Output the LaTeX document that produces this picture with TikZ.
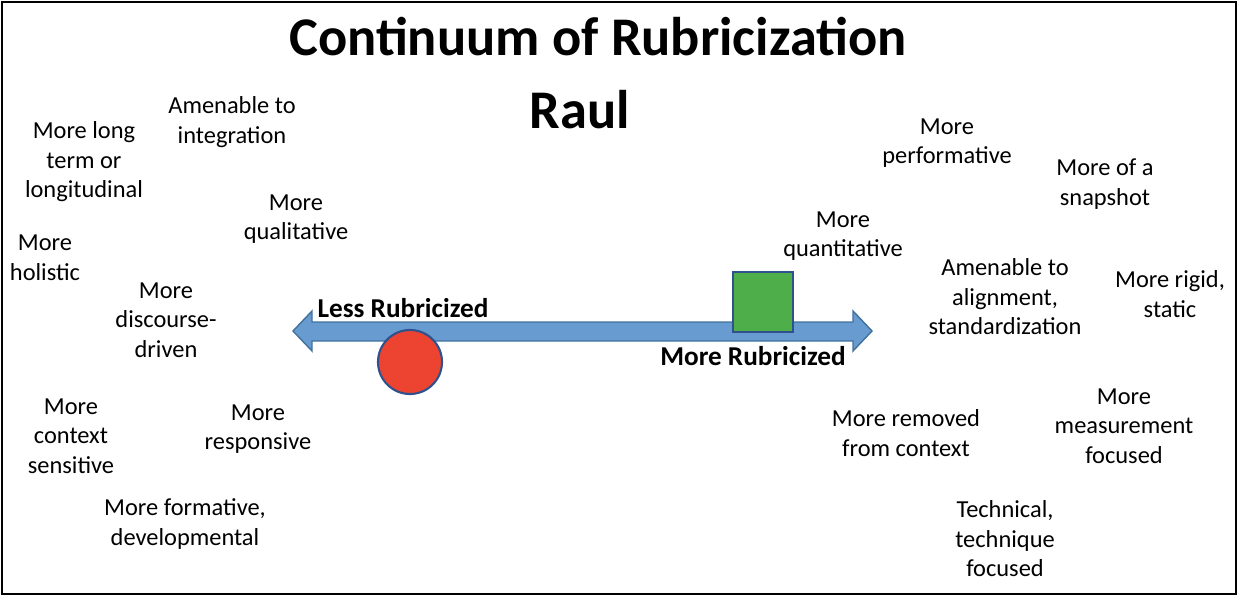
\documentclass[tikz,border=0pt]{standalone}
\usepackage{fontspec}
\setmainfont{Carlito}
\usepackage{xcolor}
\usepackage{tikz}
\usetikzlibrary{positioning,calc}

\definecolor{barblue}{RGB}{104,155,208}
\definecolor{barline}{RGB}{65,113,156}
\definecolor{dotred}{RGB}{236,68,48}
\definecolor{boxgreen}{RGB}{78,175,74}
\definecolor{shapeline}{RGB}{47,82,143}

\tikzset{
    lbl/.style={align=center, inner sep=0pt, font=\fontsize{13.9}{16.8}\selectfont},
    endlbl/.style={inner sep=0pt, font=\fontsize{15.5}{18}\selectfont\bfseries},
    ttl/.style={inner sep=0pt, font=\fontsize{31}{36}\selectfont\bfseries}
}

\begin{document}
\begin{tikzpicture}[x=0.02cm, y=-0.02cm]
    \useasboundingbox (0,0) rectangle (1238,596);
    % Frame
    \draw[line width=1.5pt] (2,2) rectangle (1236,594);

    % Title
    \node[ttl] (title) at (598,37) {Continuum of Rubricization};
    \node[ttl] (name) at (580,110) {Raul};

    % Double-headed scale
    \draw[barline, fill=barblue, line width=0.8pt]
        (293,331) -- (312,311) -- (312,322) -- (853,322) -- (853,311)
        -- (872,331) -- (853,351) -- (853,341) -- (312,341) -- (312,351) -- cycle;
    \node[endlbl] (less) at (403,308) {Less Rubricized};
    \node[endlbl] (more) at (753,356) {More Rubricized};

    % Markers
    \draw[shapeline, fill=dotred, line width=1.2pt] (410,362) circle (32);
    \draw[shapeline, fill=boxgreen, line width=1.2pt] (733,272) rectangle (793,332);

    % Less rubricized side
    \node[lbl] (integ) at (232,122) {Amenable to\\integration};
    \node[lbl] (longi) at (84,162) {More long\\term or\\longitudinal};
    \node[lbl] (quali) at (296,219) {More\\qualitative};
    \node[lbl] (holis) at (45,258) {More\\holistic};
    \node[lbl] (disc) at (166,320) {More\\discourse-\\driven};
    \node[lbl] (ctx) at (71,436) {More\\context\\sensitive};
    \node[lbl] (resp) at (258,429) {More\\responsive};
    \node[lbl] (form) at (185,524) {More formative,\\developmental};

    % More rubricized side
    \node[lbl] (perf) at (947,143) {More\\performative};
    \node[lbl] (snap) at (1105,184) {More of a\\snapshot};
    \node[lbl] (quant) at (843,236) {More\\quantitative};
    \node[lbl] (align) at (1005,297) {Amenable to\\alignment,\\standardization};
    \node[lbl] (rigid) at (1170,294) {More rigid,\\static};
    \node[lbl] (remov) at (906,433) {More removed\\from context};
    \node[lbl] (meas) at (1124,426) {More\\measurement\\focused};
    \node[lbl] (tech) at (1005,539) {Technical,\\technique\\focused};
\end{tikzpicture}
\end{document}
